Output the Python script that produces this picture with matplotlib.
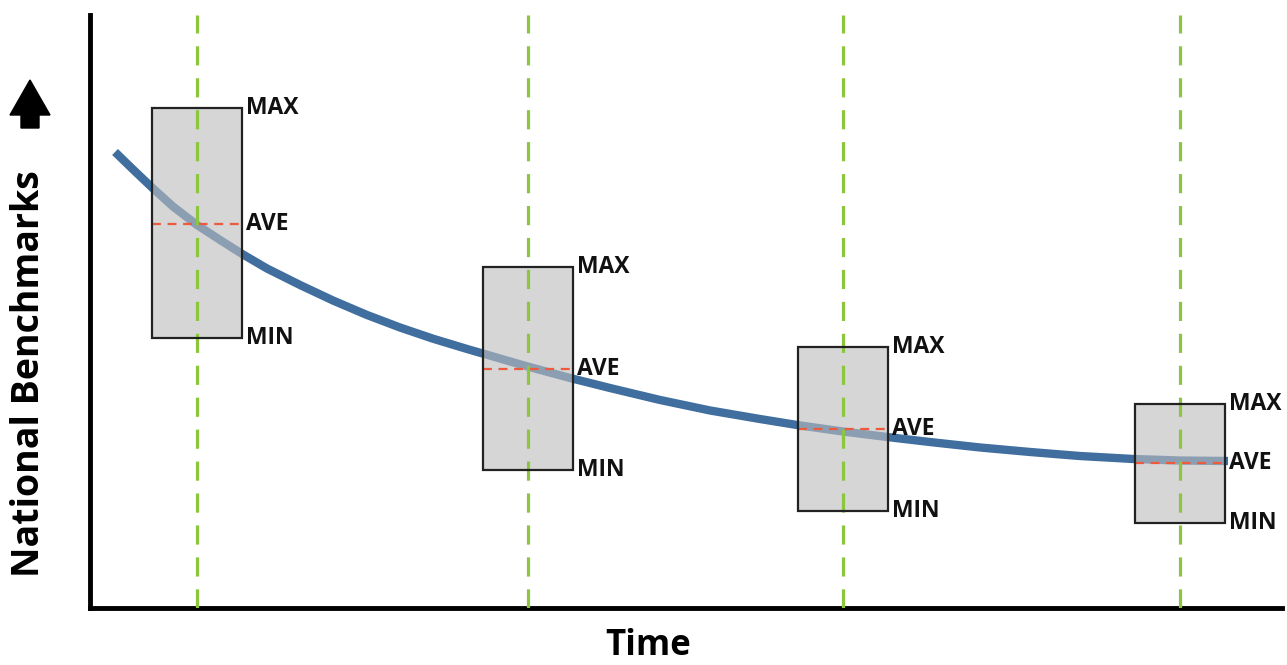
import matplotlib
matplotlib.use("Agg")
import matplotlib.pyplot as plt
from matplotlib.patches import Rectangle, FancyArrow

# ---- data (arbitrary units) ----
time_points = [8.98, 36.74, 63.17, 91.44]
box_max = [84.3, 57.5, 44.0, 34.4]
box_ave = [64.8, 40.3, 30.2, 24.5]
box_min = [45.5, 23.3, 16.4, 14.3]
box_width = 7.6

curve_x = [2.10, 3.61, 5.29, 6.96, 8.98, 10.91, 12.84, 14.85, 17.62, 20.39,
           23.24, 26.01, 28.78, 31.63, 32.97, 36.74, 40.27, 43.62, 47.82, 52.01,
           56.21, 59.31, 63.17, 66.86, 70.47, 74.66, 78.86, 83.05, 87.50, 91.44,
           95.47]
curve_y = [76.90, 73.95, 70.74, 67.71, 64.59, 62.06, 59.61, 57.25, 54.47, 51.85,
           49.41, 47.30, 45.41, 43.68, 42.90, 40.71, 38.79, 37.10, 35.08, 33.31,
           31.87, 30.86, 29.76, 28.84, 27.99, 27.07, 26.31, 25.63, 25.13, 24.87,
           24.79]

labels_box = ["MAX", "AVE", "MIN"]
x_label = "Time"
y_label = "National Benchmarks"

FONT = "Open Sans"
W, H = 1287, 665
fig = plt.figure(figsize=(W / 100, H / 100), dpi=100)
ax = fig.add_axes([90 / W, (H - 608) / H, (1282 - 90) / W, (608 - 15) / H])
ax.set_xlim(0, 100)
ax.set_ylim(0, 100)
ax.set_xticks([])
ax.set_yticks([])
for s in ["top", "right"]:
    ax.spines[s].set_visible(False)
for s in ["left", "bottom"]:
    ax.spines[s].set_linewidth(3.5)
    ax.spines[s].set_color("black")

# curve
ax.plot(curve_x, curve_y, color="#3F6E9F", lw=6, solid_capstyle="butt",
        solid_joinstyle="round", zorder=2)

for t, mx, av, mn in zip(time_points, box_max, box_ave, box_min):
    rect = Rectangle((t - box_width / 2, mn), box_width, mx - mn,
                     facecolor="#BDBDBD", alpha=0.62, edgecolor="none", zorder=3)
    ax.add_patch(rect)
    edge = Rectangle((t - box_width / 2, mn), box_width, mx - mn,
                     facecolor="none", edgecolor="#222222", lw=1.6, zorder=5)
    ax.add_patch(edge)
    ax.plot([t - box_width / 2, t + box_width / 2], [av, av], color="#EE5A3C",
            lw=1.6, dashes=(4, 3), zorder=4)
    xr = t + box_width / 2 + 0.3
    for lab, yv in zip(labels_box, [mx, av, mn]):
        ax.text(xr, yv, lab, ha="left", va="center", fontsize=16.5,
                fontweight="bold", family=FONT, color="#111111", zorder=6)
    ax.axvline(t, color="#8CC63F", lw=2.3, dashes=(6, 4), zorder=4)

# axis labels
fig.text(648 / W, 1 - 646 / H, x_label, ha="center", va="center", fontsize=25,
         fontweight="bold", family=FONT)
fig.text(29 / W, 1 - 374 / H, y_label, ha="center", va="center", fontsize=27,
         fontweight="bold", family=FONT, rotation=90)

# arrow above y label (pointing up)
arr = FancyArrow(30 / W, 1 - 128 / H, 0, (128 - 80) / H, width=18 / W,
                 head_width=40 / W, head_length=35 / H, length_includes_head=True,
                 transform=fig.transFigure, color="black")
fig.patches.append(arr)

fig.savefig("out.png", dpi=100)
